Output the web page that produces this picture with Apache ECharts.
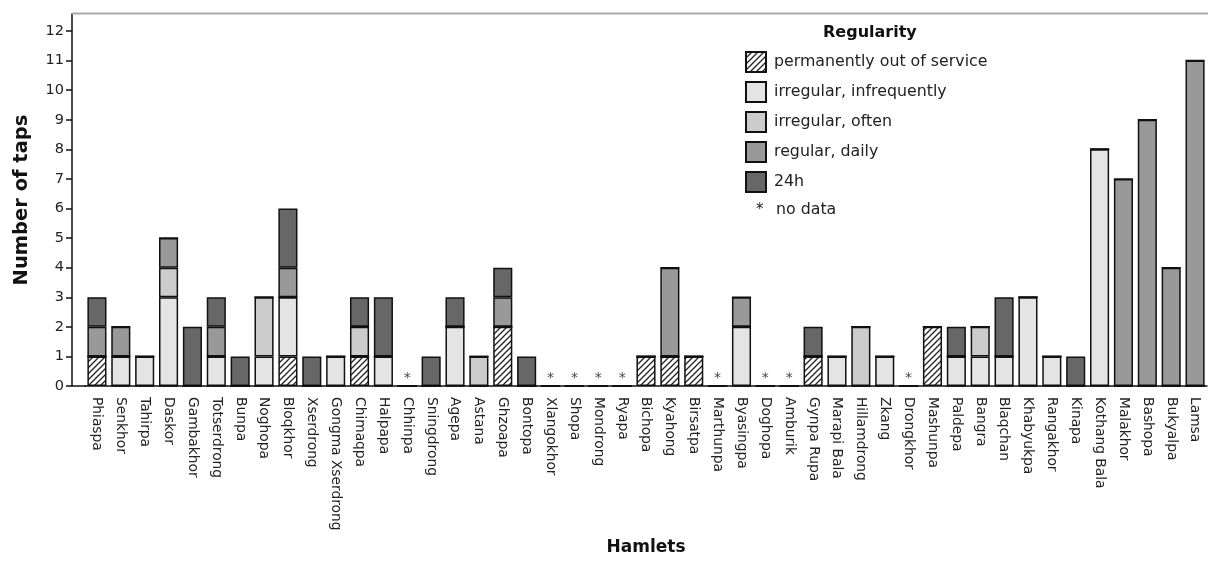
<!DOCTYPE html>
<html>
<head>
<meta charset="utf-8">
<script src="https://cdn.jsdelivr.net/npm/echarts@6/dist/echarts.min.js"></script>
<style>
html,body{margin:0;padding:0;background:#fff;}
#chart{width:1208px;height:565px;}
</style>
</head>
<body>
<div id="chart"></div>
<script>
const categories = ['Phiaspa','Senkhor','Tahirpa','Daskor','Gambakhor','Totserdrong','Bunpa','Noghopa','Bloqkhor','Xserdrong','Gongma Xserdrong','Chimaqpa','Halpapa','Chhinpa','Sningdrong','Agepa','Astana','Ghzoapa','Bontopa','Xlangokhor','Shopa','Mondrong','Ryapa','Bichopa','Kyahong','Birsatpa','Marthunpa','Byasingpa','Doghopa','Amburik','Gynpa Rupa','Marapi Bala','Hillamdrong','Zkang','Drongkhor','Mashunpa','Paldepa','Bangra','Blaqchan','Khabyukpa','Rangakhor','Kinapa','Kothang Bala','Malakhor','Bashopa','Bukyalpa','Lamsa'];

const outOfService = [1,0,0,0,0,0,0,0,1,0, 0,1,0,0,0,0,0,2,0,0, 0,0,0,1,1,1,0,0,0,0, 1,0,0,0,0,2,0,0,0,0, 0,0,0,0,0,0,0];
const irregularInfrequently = [0,1,1,3,0,1,0,1,2,0, 1,0,1,0,0,2,0,0,0,0, 0,0,0,0,0,0,0,2,0,0, 0,1,0,1,0,0,1,1,1,3, 1,0,8,0,0,0,0];
const irregularOften = [0,0,0,1,0,0,0,2,0,0, 0,1,0,0,0,0,1,0,0,0, 0,0,0,0,0,0,0,0,0,0, 0,0,2,0,0,0,0,1,0,0, 0,0,0,0,0,0,0];
const regularDaily = [1,1,0,1,0,1,0,0,1,0, 0,0,0,0,0,0,0,1,0,0, 0,0,0,0,3,0,0,1,0,0, 0,0,0,0,0,0,0,0,0,0, 0,0,0,7,9,4,11];
const hours24 = [1,0,0,0,2,1,1,0,2,1, 0,1,2,0,1,1,0,1,1,0, 0,0,0,0,0,0,0,0,0,0, 1,0,0,0,0,0,1,0,2,0, 0,1,0,0,0,0,0];
const noData = ['Chhinpa','Xlangokhor','Shopa','Mondrong','Ryapa','Marthunpa','Doghopa','Amburik','Drongkhor'];

const seriesNames = ['permanently out of service','irregular, infrequently','irregular, often','regular, daily','24h'];
const yTicks = [0,1,2,3,4,5,6,7,8,9,10,11,12];

// hatch pattern
const pc = document.createElement('canvas');
pc.width = 6; pc.height = 6;
const pctx = pc.getContext('2d');
pctx.fillStyle = '#ffffff';
pctx.fillRect(0,0,6,6);
pctx.strokeStyle = '#222';
pctx.lineWidth = 1.3;
pctx.beginPath();
pctx.moveTo(-1,7); pctx.lineTo(7,-1);
pctx.moveTo(-4,4); pctx.lineTo(4,-4);
pctx.moveTo(2,10); pctx.lineTo(10,2);
pctx.stroke();

const fills = [{image: pc, repeat: 'repeat'}, '#e4e4e4', '#cccccc', '#999999', '#676767'];
const dataSets = [outOfService, irregularInfrequently, irregularOften, regularDaily, hours24];
const FONT = '"DejaVu Sans", Verdana, sans-serif';

const series = seriesNames.map((n, i) => ({
  name: n,
  type: 'bar',
  stack: 'taps',
  barWidth: '80%',
  data: dataSets[i],
  itemStyle: {color: fills[i], borderColor: '#111', borderWidth: 1.5},
  emphasis: {disabled: true}
}));
series.push({
  name: 'no data',
  type: 'scatter',
  symbolSize: 0,
  data: noData.map(n => [n, 0]),
  label: {show: true, position: 'top', distance: 1, formatter: '*', fontSize: 14, color: '#111', fontFamily: FONT},
  silent: true
});

const chart = echarts.init(document.getElementById('chart'));
chart.setOption({
  animation: false,
  backgroundColor: '#fff',
  textStyle: {fontFamily: FONT},
  grid: {left: 85, right: 1, top: 31, bottom: 179, containLabel: false},
  xAxis: {
    type: 'category',
    data: categories,
    name: 'Hamlets',
    nameLocation: 'middle',
    nameGap: 153,
    nameTextStyle: {fontSize: 17, fontWeight: 'bold', color: '#111', fontFamily: FONT},
    axisLine: {lineStyle: {color: '#111', width: 1.5}},
    axisTick: {alignWithLabel: true, length: 7, lineStyle: {color: '#111', width: 1.5}},
    axisLabel: {rotate: -90, interval: 0, margin: 11, fontSize: 13.8, color: '#222', fontFamily: FONT}
  },
  yAxis: {
    type: 'value',
    min: yTicks[0],
    max: yTicks[yTicks.length - 1],
    interval: 1,
    offset: 13,
    axisLine: {show: true, lineStyle: {color: '#111', width: 1.5}},
    axisTick: {show: true, length: 6, lineStyle: {color: '#111', width: 1.5}},
    axisLabel: {fontSize: 14.5, color: '#222', margin: 8, fontFamily: FONT},
    splitLine: {show: false}
  },
  legend: {
    data: seriesNames,
    orient: 'vertical',
    left: 745,
    top: 51,
    padding: 0,
    itemWidth: 20,
    itemHeight: 20,
    itemGap: 8,
    icon: 'rect',
    selectedMode: false,
    textStyle: {fontSize: 15.8, color: '#222', fontFamily: FONT, padding: [0,0,0,3]}
  },
  graphic: [
    {type: 'polyline', silent: true, shape: {points: [[72, 31], [72, 13.5]]}, style: {stroke: '#111', lineWidth: 1.5, fill: null}},
    {type: 'line', silent: true, shape: {x1: 72, y1: 13.5, x2: 1208, y2: 13.5}, style: {stroke: '#aaaaaa', lineWidth: 2}},
    {type: 'line', silent: true, shape: {x1: 72, y1: 386, x2: 86, y2: 386}, style: {stroke: '#111', lineWidth: 1.5}},
    {type: 'text', silent: true, x: 22, y: 200, rotation: Math.PI / 2, style: {text: 'Number of taps', font: 'bold 19.5px ' + FONT, fill: '#111', align: 'center', verticalAlign: 'middle'}},
    {type: 'text', silent: true, left: 823, top: 25, style: {text: 'Regularity', font: 'bold 16px ' + FONT, fill: '#111'}},
    {type: 'text', silent: true, left: 756, top: 203, style: {text: '*', font: '15px ' + FONT, fill: '#222'}},
    {type: 'text', silent: true, left: 776, top: 202, style: {text: 'no data', font: '15.8px ' + FONT, fill: '#222'}}
  ],
  series: series
});
</script>
</body>
</html>
